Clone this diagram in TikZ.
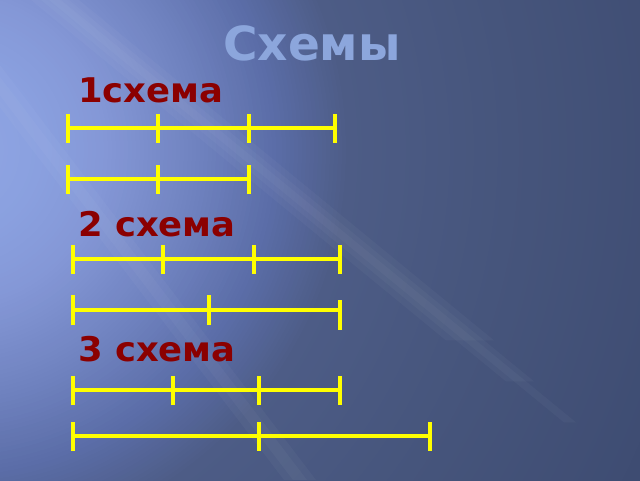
\documentclass[tikz,border=0pt]{standalone}
\usepackage{fontspec}
\setmainfont{DejaVu Sans}
\definecolor{bgA}{HTML}{90A6E4}
\definecolor{bgB}{HTML}{8AA0DF}
\definecolor{bgC}{HTML}{8497D6}
\definecolor{bgD}{HTML}{6F82BF}
\definecolor{bgE}{HTML}{5A6CA6}
\definecolor{bgF}{HTML}{4D5C86}
\definecolor{bgG}{HTML}{46557C}
\definecolor{bgH}{HTML}{3E4C72}
\definecolor{titleblue}{HTML}{8CA6DC}
\definecolor{labelred}{HTML}{8B0000}
\definecolor{segyellow}{HTML}{FFFF00}
\newcommand\bgring[4]{%
  \pgfmathtruncatemacro\bgnext{#2-4}%
  \foreach \r in {#2,\bgnext,...,#1}{%
    \pgfmathtruncatemacro\bgp{((\r-#1)/(#2-#1))*100}%
    \fill[#4!\bgp!#3] (-50,150) circle (\r);}}
\tikzset{
  seg/.style={draw=segyellow, line width=4pt},
  tick/.style={draw=segyellow, line width=4pt},
  streak/.style={fill=white, opacity=0.03},
  titletext/.style={font=\bfseries\fontsize{47}{50}\selectfont, text=titleblue, inner sep=0pt},
  labeltext/.style={font=\bfseries\fontsize{34}{38}\selectfont, text=labelred, inner sep=0pt, anchor=base west, xscale=1.04},
}
\begin{document}
\begin{tikzpicture}[x=1pt,y=-1pt]
\useasboundingbox (0,0) rectangle (640,480);
\begin{scope}
\clip (0,0) rectangle (640,480);
\fill[bgH] (0,0) rectangle (640,480);
\bgring{560}{765}{bgG}{bgH}
\bgring{400}{560}{bgF}{bgG}
\bgring{330}{400}{bgE}{bgF}
\bgring{250}{330}{bgD}{bgE}
\bgring{158}{250}{bgC}{bgD}
\bgring{94}{158}{bgB}{bgC}
\bgring{2}{94}{bgA}{bgB}
\foreach \w/\e in {24/470,14/520,6/570} {
  \fill[streak] (55-\w,0) -- (55+\w,0) -- (\e+\w,0.82*\e-45) -- (\e-\w,0.82*\e-45) -- cycle;
}
\foreach \w in {16,7} {
  \fill[streak] (-20-\w,60) -- (-20+\w,60) -- (300+\w,480) -- (300-\w,480) -- cycle;
}
\end{scope}

\node[titletext, anchor=base] (title) at (312,60) {Схемы};
\node[labeltext] (l1) at (78,102) {1схема};
\node[labeltext] (l2) at (78,236) {2 схема};
\node[labeltext] (l3) at (78,361) {3 схема};

% scheme 1
\coordinate (a1) at (68,128); \coordinate (a2) at (158,128); \coordinate (a3) at (249,128); \coordinate (a4) at (335,128);
\draw[seg] (a1) -- (a4);
\foreach \p in {a1,a2,a3,a4} \draw[tick] ([yshift=14pt]\p) -- ([yshift=-15pt]\p);
\coordinate (b1) at (68,179); \coordinate (b2) at (158,179); \coordinate (b3) at (249,179);
\draw[seg] (b1) -- (b3);
\foreach \p in {b1,b2,b3} \draw[tick] ([yshift=14pt]\p) -- ([yshift=-15pt]\p);

% scheme 2
\coordinate (c1) at (73,259); \coordinate (c2) at (163,259); \coordinate (c3) at (254,259); \coordinate (c4) at (340,259);
\draw[seg] (c1) -- (c4);
\foreach \p in {c1,c2,c3,c4} \draw[tick] ([yshift=14pt]\p) -- ([yshift=-15pt]\p);
\coordinate (d1) at (73,310); \coordinate (d2) at (209,310); \coordinate (d3) at (340,310);
\coordinate (d3t) at (340,315);
\draw[seg] (d1) -- (d3);
\foreach \p in {d1,d2,d3t} \draw[tick] ([yshift=15pt]\p) -- ([yshift=-15pt]\p);

% scheme 3
\coordinate (e1) at (73,390); \coordinate (e2) at (173,390); \coordinate (e3) at (259,390); \coordinate (e4) at (340,390);
\draw[seg] (e1) -- (e4);
\foreach \p in {e1,e2,e3,e4} \draw[tick] ([yshift=14pt]\p) -- ([yshift=-15pt]\p);
\coordinate (f1) at (73,436); \coordinate (f2) at (259,436); \coordinate (f3) at (430,436);
\draw[seg] (f1) -- (f3);
\foreach \p in {f1,f2,f3} \draw[tick] ([yshift=14pt]\p) -- ([yshift=-15pt]\p);
\end{tikzpicture}
\end{document}
